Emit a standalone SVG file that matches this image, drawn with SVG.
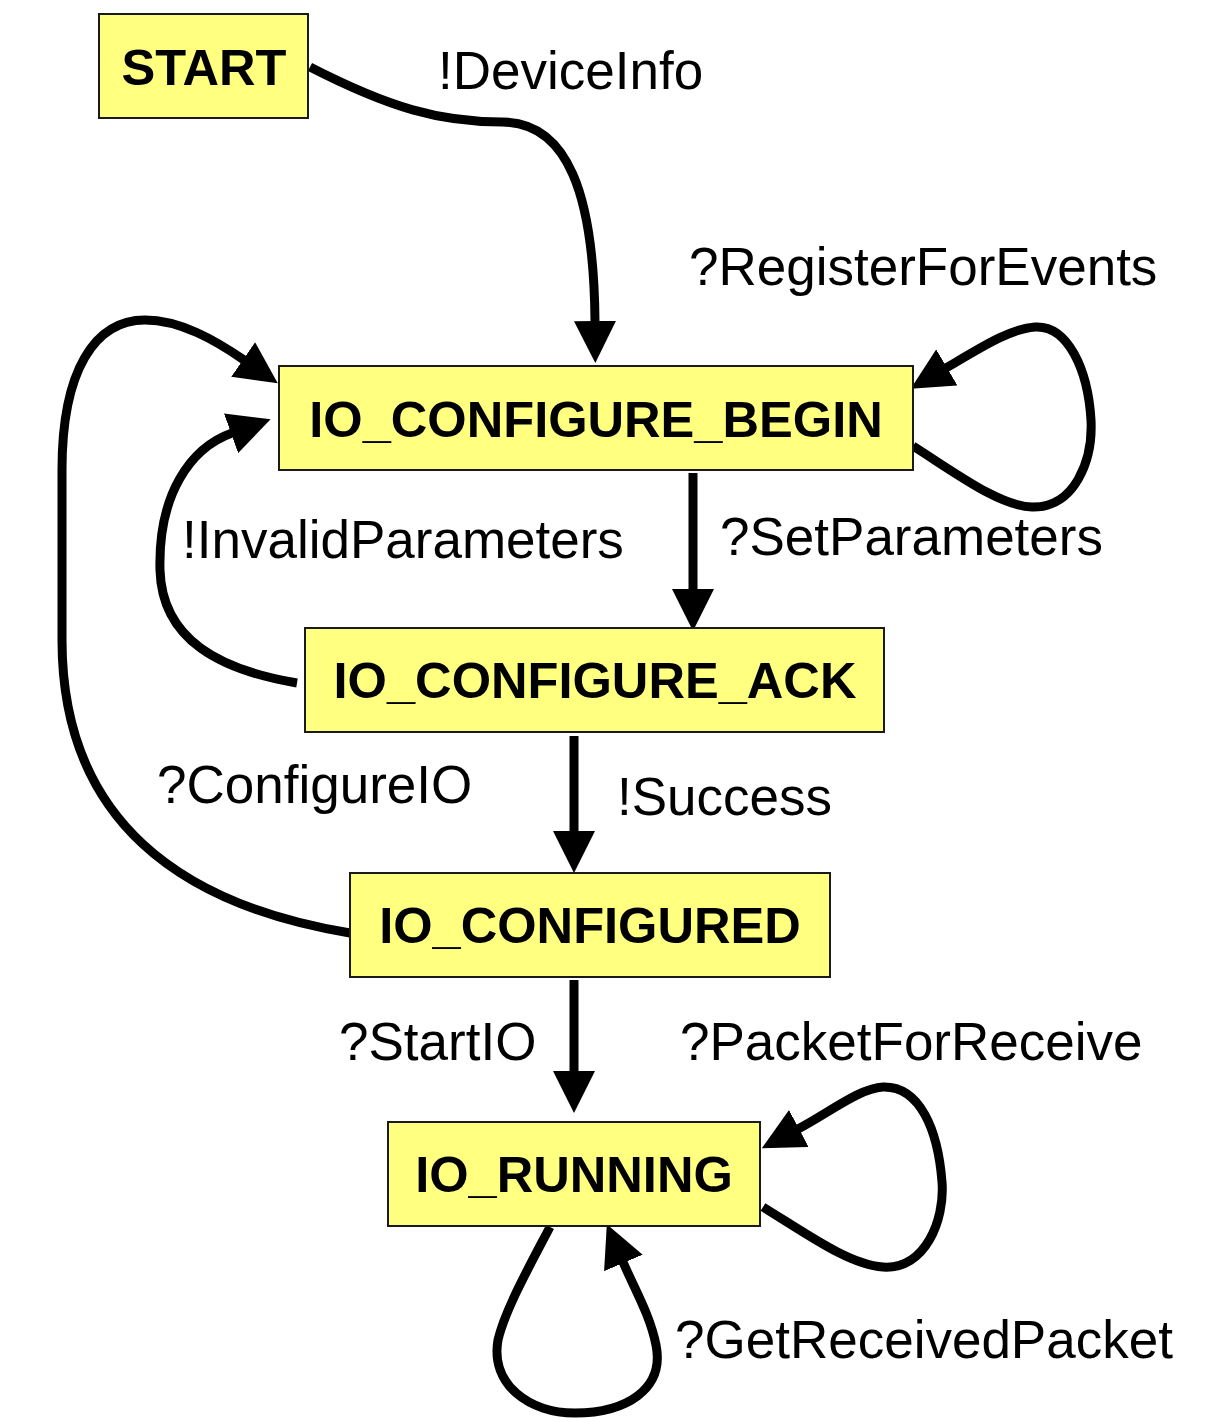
<svg xmlns="http://www.w3.org/2000/svg" width="1229" height="1418" viewBox="0 0 1229 1418">
  <style>
    .state rect { fill: #ffff80; stroke: #1a1a1a; stroke-width: 2; }
    .state text { font-family: "Liberation Sans", Arial, sans-serif; font-weight: bold; font-size: 50.6px; fill: #000; text-anchor: middle; }
    .edge { fill: none; stroke: #000; stroke-width: 9; marker-end: url(#head); }
    .label { font-family: "Liberation Sans", Arial, sans-serif; font-size: 53px; fill: #000; }
  </style>
  <defs>
    <marker id="head" markerUnits="userSpaceOnUse" viewBox="0 0 42 42" markerWidth="42" markerHeight="42" refX="1" refY="21" orient="auto">
      <path d="M0,0 L42,21 L0,42 z" fill="#000"/>
    </marker>
  </defs>
  <rect width="1229" height="1418" fill="#fff"/>

  <!-- transitions -->
  <g id="connectors">
    <path class="edge" d="M310,67 C390,108 440,122 502,122 C568,122 594,195 595,322"/>
    <path class="edge" d="M913,446 C960,476 1000,506 1032,507 C1075,508 1093,460 1091,420 C1088,370 1068,325 1035,327 C1010,329 985,345 946,368"/>
    <path class="edge" d="M693,473 L693,590"/>
    <path class="edge" d="M297,683 C220,670 162,640 160,570 C158,495 190,448 232,433"/>
    <path class="edge" d="M350,933 C180,905 62,820 62,640 L62,470 C62,370 95,320 145,320 C180,320 215,340 244,360"/>
    <path class="edge" d="M574,736 L574,832"/>
    <path class="edge" d="M574,980 L574,1072"/>
    <path class="edge" d="M763,1207 C810,1236 850,1265 883,1267 C925,1270 945,1220 942,1182 C938,1130 920,1086 883,1087 C860,1088 830,1112 798,1129"/>
    <path class="edge" d="M550,1227 C530,1265 505,1310 498,1340 C490,1385 530,1413 575,1413 C625,1413 665,1390 656,1345 C650,1315 635,1290 623,1262"/>
  </g>

  <!-- transition labels -->
  <g id="labels">
    <text class="label" x="438" y="89">!DeviceInfo</text>
    <text class="label" x="689" y="285">?RegisterForEvents</text>
    <text class="label" x="720" y="555">?SetParameters</text>
    <text class="label" x="182" y="558">!InvalidParameters</text>
    <text class="label" x="157" y="803">?ConfigureIO</text>
    <text class="label" x="617" y="815">!Success</text>
    <text class="label" x="339" y="1060">?StartIO</text>
    <text class="label" x="680" y="1060">?PacketForReceive</text>
    <text class="label" x="675" y="1358">?GetReceivedPacket</text>
  </g>

  <!-- states -->
  <g id="start" class="state">
    <rect x="99" y="14" width="209" height="104"/>
    <text x="204" y="85">START</text>
  </g>
  <g id="io_configure_begin" class="state">
    <rect x="279" y="366" width="634" height="104"/>
    <text x="596" y="437">IO_CONFIGURE_BEGIN</text>
  </g>
  <g id="io_configure_ack" class="state">
    <rect x="305" y="628" width="579" height="104"/>
    <text x="595" y="698">IO_CONFIGURE_ACK</text>
  </g>
  <g id="io_configured" class="state">
    <rect x="350" y="873" width="480" height="104"/>
    <text x="590" y="943">IO_CONFIGURED</text>
  </g>
  <g id="io_running" class="state">
    <rect x="388" y="1122" width="372" height="104"/>
    <text x="574" y="1192">IO_RUNNING</text>
  </g>
</svg>
